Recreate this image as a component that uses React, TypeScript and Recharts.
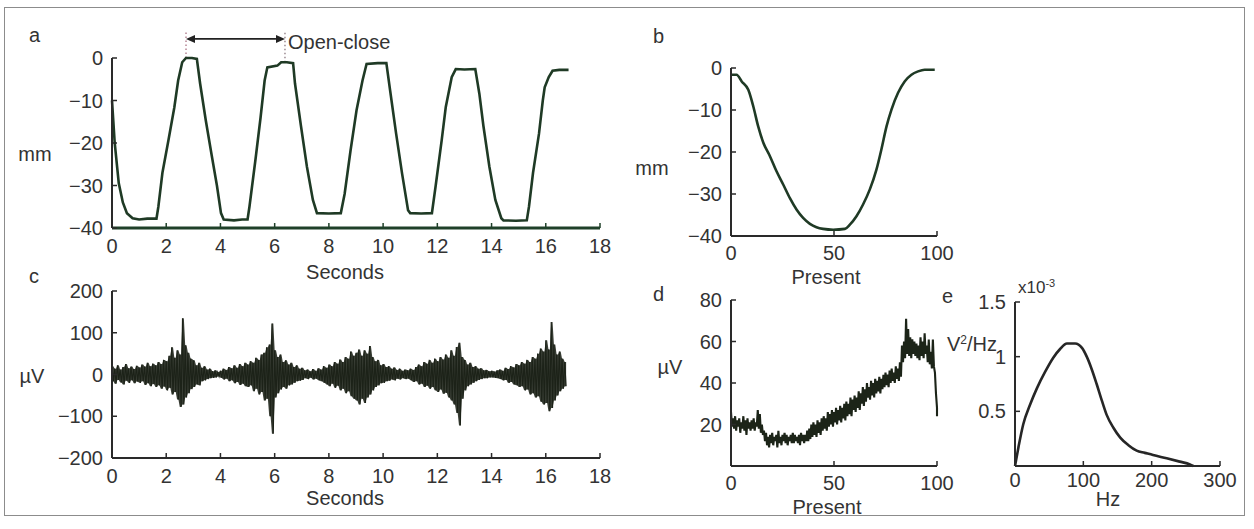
import React from 'react';
import { Area, ComposedChart, Line, ReferenceLine, XAxis, YAxis } from 'recharts';

const PAGE_W = 1254;
const PAGE_H = 529;
const FONT = '"Liberation Sans", Arial, Helvetica, sans-serif';
const INK = '#333333';
const AXIS = '#2a2a2a';
const Y_AXIS_W = 60;
const X_AXIS_H = 30;

// a: jaw opening over time, [seconds, mm]
const jawOpening: [number, number][] = [
  [0, -10], [0.1, -20], [0.25, -29.5], [0.4, -34], [0.55, -36.5], [0.76, -37.7], [1.0, -38], [1.3, -37.8], [1.64, -37.8],
  [1.71, -35], [1.86, -27], [2.08, -19.4], [2.3, -11.6], [2.44, -5.3], [2.59, -1], [2.73, 0], [2.95, 0], [3.13, -0.2],
  [3.25, -6], [3.46, -14.7], [3.68, -23], [3.87, -30], [4.02, -36.5], [4.12, -38], [4.5, -38.2], [4.8, -38], [5.0, -38],
  [5.07, -35], [5.29, -24], [5.48, -14], [5.63, -5.3], [5.73, -2.2], [6.1, -1.8], [6.24, -1], [6.45, -1], [6.68, -1.2],
  [6.75, -6], [6.97, -16], [7.19, -25.6], [7.41, -33.4], [7.56, -36.5], [8.0, -36.6], [8.44, -36.5],
  [8.58, -32], [8.8, -21.7], [9.02, -12.3], [9.24, -5.3], [9.39, -1.4], [9.8, -1.2], [10.12, -1.2],
  [10.26, -7.7], [10.48, -17.8], [10.7, -27.2], [10.92, -35.8], [11.0, -36.5], [11.4, -36.6], [11.8, -36.5],
  [11.94, -30], [12.16, -19.4], [12.31, -11.6], [12.53, -4.5], [12.68, -2.6], [13.0, -2.7], [13.4, -2.6],
  [13.55, -8.4], [13.7, -16], [13.92, -25.6], [14.14, -33.4], [14.36, -37.7], [14.44, -38.2], [14.9, -38.3], [15.3, -38.2],
  [15.38, -35], [15.53, -27], [15.75, -17.8], [15.89, -10], [15.96, -6.9], [16.11, -4.5], [16.25, -3], [16.5, -2.8], [16.84, -2.8],
];

// b: averaged cycle, [percent, mm]
const cycleOpening: [number, number][] = [
  [0, -1.6], [2.7, -1.6], [5.2, -3.2], [8.4, -5.2], [10.8, -9.1], [13.2, -13.9], [15.7, -17.8], [18.9, -21],
  [22.1, -24.6], [25.4, -27.8], [28.6, -31], [31.8, -33.7], [35, -35.7], [38.3, -37.1], [41.5, -37.9], [44.7, -38.3],
  [49.6, -38.5], [55.3, -38.3], [57.7, -37.3], [60.9, -35.3], [64.1, -32.5], [67.4, -28.9], [70.6, -24.2], [73, -19.4],
  [75.5, -13.9], [77.9, -9.9], [81.1, -5.9], [84.3, -3.2], [87.6, -1.6], [90.8, -0.8], [94, -0.4], [98.9, -0.4],
];

// c: raw EMG, upper / lower excursion in each 0.1 s bin (µV)
const EMG_BIN = 0.1;
const emgHigh = [
  20, 14, 22, 12, 18, 25, 15, 19, 13, 21,
  17, 24, 19, 28, 20, 26, 22, 30, 25, 35,
  32, 45, 65, 40, 58, 48, 135, 70, 52, 38,
  34, 22, 28, 16, 20, 12, 14, 8, 10, 6,
  9, 14, 11, 18, 15, 22, 16, 25, 20, 28,
  24, 32, 28, 40, 35, 48, 52, 65, 72, 122,
  58, 42, 48, 30, 34, 24, 28, 18, 22, 14,
  16, 10, 12, 8, 13, 9, 15, 12, 20, 16,
  24, 20, 30, 26, 36, 30, 42, 38, 55, 45,
  52, 60, 45, 58, 50, 68, 42, 32, 35, 22,
  25, 18, 20, 14, 17, 11, 14, 9, 12, 10,
  14, 11, 18, 24, 20, 30, 26, 35, 28, 38,
  32, 42, 36, 48, 40, 58, 45, 66, 76, 42,
  35, 24, 28, 18, 20, 14, 15, 10, 11, 8,
  9, 7, 10, 12, 9, 16, 13, 20, 17, 25,
  22, 30, 26, 35, 30, 42, 38, 50, 62, 55,
  82, 60, 126, 72, 48, 55, 38, 30,
];
const emgLow = [
  -16, -22, -13, -19, -24, -15, -20, -14, -21, -17,
  -20, -16, -25, -21, -28, -23, -30, -26, -34, -29,
  -38, -32, -48, -42, -60, -78, -72, -55, -45, -35,
  -30, -24, -26, -16, -14, -11, -9, -8, -7, -5,
  -8, -12, -10, -16, -14, -21, -18, -25, -22, -28,
  -30, -26, -40, -34, -48, -42, -62, -58, -100, -142,
  -55, -45, -36, -30, -34, -26, -24, -20, -16, -15,
  -13, -9, -11, -8, -12, -10, -14, -16, -20, -24,
  -28, -22, -32, -27, -38, -34, -45, -40, -52, -58,
  -62, -72, -58, -68, -55, -48, -38, -30, -26, -21,
  -20, -16, -15, -12, -14, -10, -12, -9, -11, -10,
  -14, -18, -16, -24, -22, -30, -27, -34, -30, -38,
  -42, -36, -46, -44, -55, -62, -72, -92, -122, -58,
  -38, -28, -24, -20, -16, -13, -11, -9, -9, -7,
  -7, -8, -9, -11, -14, -13, -20, -18, -24, -26,
  -30, -28, -38, -36, -48, -45, -55, -52, -65, -72,
  -68, -88, -80, -62, -50, -40, -34, -28,
];

// d: rectified EMG over the cycle, upper / lower per 1 % (µV)
const envHigh = [
  26, 23, 24, 22, 23, 21, 24, 22, 23, 21,
  22, 23, 21, 27, 25, 20, 17, 16, 14, 15,
  16, 14, 15, 17, 14, 15, 16, 15, 14, 15,
  16, 15, 14, 15, 16, 15, 15, 17, 18, 20,
  21, 20, 22, 21, 23, 24, 23, 26, 25, 27,
  26, 28, 27, 29, 28, 30, 31, 30, 33, 32,
  34, 33, 36, 35, 38, 37, 40, 38, 41, 40,
  42, 41, 43, 42, 44, 45, 44, 46, 47, 45,
  48, 47, 50, 58, 60, 71, 66, 62, 61, 60,
  59, 58, 62, 60, 64, 58, 61, 55, 61, 45,
  28,
];
const envLow = [
  19, 18, 17, 19, 16, 18, 17, 15, 18, 17,
  18, 17, 19, 18, 16, 15, 12, 10, 9, 11,
  10, 12, 9, 11, 10, 12, 11, 10, 12, 11,
  11, 12, 11, 10, 12, 11, 12, 12, 13, 14,
  15, 14, 16, 15, 17, 18, 17, 19, 20, 19,
  21, 20, 22, 21, 23, 22, 24, 25, 24, 27,
  26, 28, 27, 30, 29, 31, 33, 32, 34, 33,
  35, 36, 35, 37, 38, 39, 38, 40, 41, 40,
  42, 41, 43, 50, 52, 54, 53, 52, 54, 53,
  52, 51, 53, 52, 54, 50, 49, 47, 48, 35,
  24,
];

// e: power spectrum, [Hz, x10^-3 V^2/Hz]
const spectrum: [number, number][] = [
  [0, 0], [5, 0.17], [12, 0.38], [22, 0.56], [32, 0.71], [44, 0.86], [56, 0.99], [66, 1.07], [76, 1.12],
  [88, 1.12], [98, 1.08], [105, 1.0], [112, 0.89], [119.5, 0.75], [127, 0.6], [134, 0.47], [144, 0.35],
  [154, 0.26], [166, 0.19], [178, 0.14], [190, 0.12], [202, 0.1], [222, 0.07], [241, 0.04], [256, 0.015], [261, 0],
];

const secondTicks = [0, 2, 4, 6, 8, 10, 12, 14, 16, 18];
const percentTicks = [0, 50, 100];
const mmTicks = [-40, -30, -20, -10, 0];
const uvTicks = [-200, -100, 0, 100, 200];
const envTicks = [20, 40, 60, 80];
const hzTicks = [0, 100, 200, 300];
const psdTicks = [0.5, 1, 1.5];

type Row = { x: number; y: number; band?: [number, number] };

const pairs = (rows: [number, number][]): Row[] => rows.map(([x, y]) => ({ x, y }));

// each bin gives two points, its top then its bottom, so the line sweeps the band
const zigzag = (high: number[], low: number[], step: number, xMax: number): Row[] =>
  high.flatMap((h, i) => {
    const band: [number, number] = [low[i], h];
    return [
      { x: i * step, y: h, band },
      { x: Math.min(i * step + step / 2, xMax), y: low[i], band },
    ];
  });

type PlotBox = { left: number; top: number; right: number; bottom: number };

type PanelProps = {
  box: PlotBox;
  data: Row[];
  xDomain: [number, number];
  xTicks: number[];
  yDomain: [number, number];
  yTicks: number[];
  xTickMargin?: number;
  xAxisColor?: string;
  xAxisWidth?: number;
  children?: React.ReactNode;
};

const minus = (value: number) => String(value).replace('-', '\u2212');

function Panel({
  box, data, xDomain, xTicks, yDomain, yTicks,
  xTickMargin = 15, xAxisColor = AXIS, xAxisWidth = 2, children,
}: PanelProps) {
  const margin = {
    top: box.top,
    left: box.left - Y_AXIS_W,
    right: PAGE_W - box.right,
    bottom: PAGE_H - box.bottom - X_AXIS_H,
  };
  const tick = { fill: INK, fontSize: 20, fontFamily: FONT };
  return (
    <div style={{ position: 'absolute', left: 0, top: 0 }}>
      <ComposedChart width={PAGE_W} height={PAGE_H} data={data} margin={margin}>
        <XAxis
          dataKey="x"
          type="number"
          domain={xDomain}
          ticks={xTicks}
          interval={0}
          height={X_AXIS_H}
          axisLine={{ stroke: xAxisColor, strokeWidth: xAxisWidth }}
          tickLine={{ stroke: xAxisColor, strokeWidth: 1.5 }}
          tickSize={-5}
          tickMargin={xTickMargin}
          tick={tick}
          tickFormatter={minus}
        />
        <YAxis
          type="number"
          domain={yDomain}
          ticks={yTicks}
          interval={0}
          width={Y_AXIS_W}
          axisLine={{ stroke: AXIS, strokeWidth: 2 }}
          tickLine={{ stroke: AXIS, strokeWidth: 1.5 }}
          tickSize={-5}
          tickMargin={14}
          tick={tick}
          tickFormatter={minus}
        />
        {children}
      </ComposedChart>
    </div>
  );
}

const ArrowShape = (props: any) => {
  const { x1, y1, x2, y2 } = props;
  const head = 9;
  const half = 4;
  return (
    <g>
      <line x1={x1 + head} y1={y1} x2={x2 - head} y2={y2} stroke="#222" strokeWidth={1.8} />
      <polygon points={`${x1},${y1} ${x1 + head},${y1 - half} ${x1 + head},${y1 + half}`} fill="#222" />
      <polygon points={`${x2},${y2} ${x2 - head},${y2 - half} ${x2 - head},${y2 + half}`} fill="#222" />
    </g>
  );
};

type TxtProps = { x: number; y: number; anchor?: 'start' | 'middle' | 'end'; size?: number; children: React.ReactNode };

const Txt = ({ x, y, anchor = 'start', size = 20, children }: TxtProps) => {
  const dx = anchor === 'middle' ? '-50%' : anchor === 'end' ? '-100%' : '0';
  return (
    <div
      style={{
        position: 'absolute',
        left: x,
        top: y,
        transform: `translate(${dx}, -50%)`,
        whiteSpace: 'nowrap',
        lineHeight: 1,
        fontFamily: FONT,
        fontSize: size,
        color: INK,
      }}
    >
      {children}
    </div>
  );
};

const OPEN_T = 2.73;
const CLOSE_T = 6.38;

export default function App() {
  const traceA = pairs(jawOpening);
  const traceB = pairs(cycleOpening);
  const traceC = zigzag(emgHigh, emgLow, EMG_BIN, 18);
  const traceD = zigzag(envHigh, envLow, 1, 100);
  const traceE = pairs(spectrum);

  return (
    <div style={{ position: 'absolute', left: 0, top: 0, width: PAGE_W, height: PAGE_H, background: '#fff', overflow: 'hidden' }}>
      <div
        style={{
          position: 'absolute',
          left: 4,
          top: 7,
          width: 1241,
          height: 509,
          border: '1.5px solid #8c8c8c',
          boxSizing: 'border-box',
        }}
      />

      <Panel
        box={{ left: 112, top: 58, right: 600, bottom: 228 }}
        data={traceA}
        xDomain={[0, 18]}
        xTicks={secondTicks}
        yDomain={[-40, 0]}
        yTicks={mmTicks}
        xTickMargin={16}
        xAxisColor="#1f4029"
        xAxisWidth={3}
      >
        <ReferenceLine
          segment={[{ x: OPEN_T, y: 0 }, { x: OPEN_T, y: 6 }]}
          ifOverflow="visible"
          stroke="#b58594"
          strokeWidth={1.5}
          strokeDasharray="1.5 2.5"
        />
        <ReferenceLine
          segment={[{ x: CLOSE_T, y: -1 }, { x: CLOSE_T, y: 6 }]}
          ifOverflow="visible"
          stroke="#9a8a90"
          strokeWidth={1.5}
          strokeDasharray="1.5 2.5"
        />
        <ReferenceLine
          segment={[{ x: OPEN_T, y: 4.5 }, { x: CLOSE_T, y: 4.5 }]}
          ifOverflow="visible"
          shape={ArrowShape}
        />
        <Line dataKey="y" type="linear" stroke="#1f3a25" strokeWidth={2.6} dot={false} activeDot={false} isAnimationActive={false} />
      </Panel>

      <Panel
        box={{ left: 731, top: 68, right: 937, bottom: 236 }}
        data={traceB}
        xDomain={[0, 100]}
        xTicks={percentTicks}
        yDomain={[-40, 0]}
        yTicks={mmTicks}
        xTickMargin={15}
      >
        <Line dataKey="y" type="monotone" stroke="#1f3a25" strokeWidth={2.6} dot={false} activeDot={false} isAnimationActive={false} />
      </Panel>

      <Panel
        box={{ left: 112, top: 291, right: 600, bottom: 458 }}
        data={traceC}
        xDomain={[0, 18]}
        xTicks={secondTicks}
        yDomain={[-200, 200]}
        yTicks={uvTicks}
        xTickMargin={16}
      >
        <Area dataKey="band" type="linear" stroke="none" fill="#1c2218" fillOpacity={0.88} dot={false} activeDot={false} isAnimationActive={false} />
        <Line dataKey="y" type="linear" stroke="#1c2218" strokeWidth={1.1} dot={false} activeDot={false} isAnimationActive={false} />
      </Panel>

      <Panel
        box={{ left: 731, top: 300, right: 937, bottom: 466 }}
        data={traceD}
        xDomain={[0, 100]}
        xTicks={percentTicks}
        yDomain={[0, 80]}
        yTicks={envTicks}
        xTickMargin={15}
      >
        <Line dataKey="y" type="linear" stroke="#1c2418" strokeWidth={2.1} dot={false} activeDot={false} isAnimationActive={false} />
      </Panel>

      <Panel
        box={{ left: 1015, top: 302, right: 1220, bottom: 466 }}
        data={traceE}
        xDomain={[0, 300]}
        xTicks={hzTicks}
        yDomain={[0, 1.5]}
        yTicks={psdTicks}
        xTickMargin={12}
      >
        <Line dataKey="y" type="monotone" stroke="#262626" strokeWidth={2.6} dot={false} activeDot={false} isAnimationActive={false} />
      </Panel>

      <Txt x={29} y={35}>a</Txt>
      <Txt x={288} y={42}>Open-close</Txt>
      <Txt x={35} y={154} anchor="middle">mm</Txt>
      <Txt x={345} y={272} anchor="middle">Seconds</Txt>

      <Txt x={653} y={36}>b</Txt>
      <Txt x={652} y={168} anchor="middle">mm</Txt>
      <Txt x={826} y={277} anchor="middle">Present</Txt>

      <Txt x={29} y={276}>c</Txt>
      <Txt x={32} y={376} anchor="middle">µV</Txt>
      <Txt x={345} y={498} anchor="middle">Seconds</Txt>

      <Txt x={653} y={294}>d</Txt>
      <Txt x={670} y={367} anchor="middle">µV</Txt>
      <Txt x={827} y={507} anchor="middle">Present</Txt>

      <Txt x={942} y={296}>e</Txt>
      <Txt x={1018} y={287} size={17}>
        x10<sup style={{ fontSize: 11 }}>-3</sup>
      </Txt>
      <Txt x={972} y={344} anchor="middle">
        V<sup style={{ fontSize: 12 }}>2</sup>/Hz
      </Txt>
      <Txt x={1108} y={499} anchor="middle">Hz</Txt>
    </div>
  );
}
